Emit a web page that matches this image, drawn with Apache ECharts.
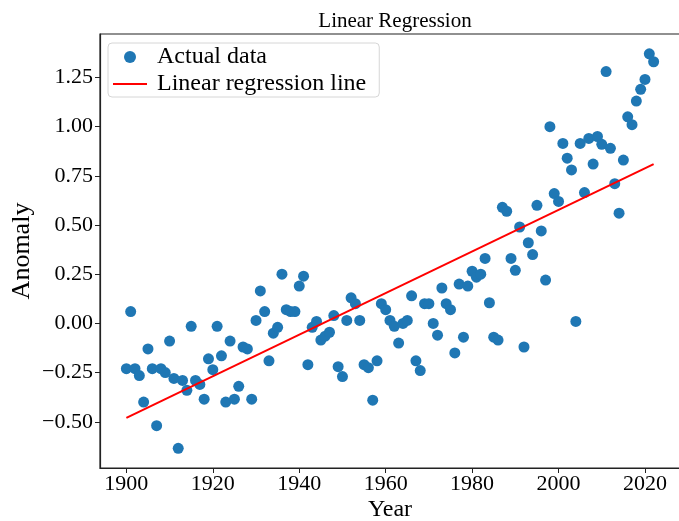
<!DOCTYPE html>
<html>
<head>
<meta charset="utf-8">
<script src="https://cdn.jsdelivr.net/npm/echarts@6/dist/echarts.min.js"></script>
<style>
html,body{margin:0;padding:0;background:#fff;}
#chart{width:679px;height:521px;}
</style>
</head>
<body>
<div id="chart"></div>
<script>
var years = [];
for (var y = 1900; y <= 2022; y++) years.push(y);
var anomaly = [
 -0.23, 0.06, -0.23, -0.265, -0.40, -0.13, -0.23, -0.52, -0.23, -0.25,
 -0.09, -0.28, -0.635, -0.29, -0.34, -0.015, -0.29, -0.31, -0.385, -0.18,
 -0.235, -0.015, -0.165, -0.40, -0.09, -0.385, -0.32, -0.12, -0.13, -0.385,
 0.015, 0.165, 0.06, -0.19, -0.05, -0.02, 0.25, 0.07, 0.06, 0.06,
 0.19, 0.24, -0.21, -0.02, 0.01, -0.085, -0.065, -0.045, 0.04, -0.22,
 -0.27, 0.015, 0.13, 0.10, 0.015, -0.21, -0.225, -0.39, -0.19, 0.10,
 0.07, 0.015, -0.015, -0.10, 0.0, 0.015, 0.14, -0.19, -0.24, 0.10,
 0.10, 0.0, -0.06, 0.18, 0.10, 0.07, -0.15, 0.20, -0.07, 0.19,
 0.265, 0.235, 0.25, 0.33, 0.105, -0.07, -0.085, 0.59, 0.57, 0.33,
 0.27, 0.49, -0.12, 0.41, 0.35, 0.60, 0.47, 0.22, 1.00, 0.66,
 0.62, 0.915, 0.84, 0.78, 0.01, 0.915, 0.665, 0.94, 0.81, 0.95,
 0.91, 1.28, 0.89, 0.71, 0.56, 0.83, 1.05, 1.01, 1.13, 1.19,
 1.24, 1.37, 1.33
];
var lineYears = [1900, 2022];
var lineValues = [-0.48, 0.81];
var xTicks = [1900, 1920, 1940, 1960, 1980, 2000, 2020];
var yTicks = [-0.50, -0.25, 0.00, 0.25, 0.50, 0.75, 1.00, 1.25];

var scatterData = years.map(function (yr, i) { return [yr, anomaly[i]]; });
var lineData = lineYears.map(function (yr, i) { return [yr, lineValues[i]]; });

var FONT = '"Liberation Serif", "Times New Roman", serif';
var chart = echarts.init(document.getElementById('chart'), null, {renderer: 'canvas'});
chart.setOption({
  animation: false,
  backgroundColor: '#ffffff',
  title: {
    text: 'Linear Regression',
    left: 390, top: 6, textAlign: 'center',
    textStyle: {fontFamily: FONT, fontSize: 21, fontWeight: 'normal', color: '#000'}
  },
  grid: {
    left: 100, top: 34, right: -1, bottom: 53,
    containLabel: false, outerBoundsMode: 'none',
    show: true, borderColor: '#222', borderWidth: 1.2, backgroundColor: 'transparent'
  },
  legend: {
    orient: 'vertical', left: 108, top: 43,
    padding: [2, 13, 1, 5], itemGap: 3,
    itemWidth: 34, itemHeight: 12,
    backgroundColor: '#fff', borderColor: '#d6d6d6', borderWidth: 1, borderRadius: 4,
    textStyle: {fontFamily: FONT, fontSize: 24, color: '#000', lineHeight: 24, padding: [0, 0, 0, 5]},
    data: [
      {name: 'Actual data', icon: 'circle', itemStyle: {color: '#1f77b4'}},
      {name: 'Linear regression line', icon: 'path://M0,0h34v2h-34z', itemStyle: {color: '#ff0000'}}
    ]
  },
  xAxis: {
    type: 'value', min: 1893.9, max: 2028.1,
    name: 'Year', nameLocation: 'middle', nameGap: 30, nameMoveOverlap: false,
    nameTextStyle: {fontFamily: FONT, fontSize: 24, color: '#000'},
    splitLine: {show: false},
    axisLine: {show: true, onZero: false, lineStyle: {color: '#222', width: 1.2}},
    axisTick: {show: true, length: 5, lineStyle: {color: '#222'}, customValues: xTicks},
    axisLabel: {fontFamily: FONT, fontSize: 22, color: '#000', margin: 5, customValues: xTicks,
      formatter: function (v) { return String(v); }}
  },
  yAxis: {
    type: 'value', min: -0.735, max: 1.471,
    name: 'Anomaly', nameLocation: 'middle', nameGap: 65, nameRotate: 90, nameMoveOverlap: false,
    nameTextStyle: {fontFamily: FONT, fontSize: 26, color: '#000'},
    splitLine: {show: false},
    axisLine: {show: true, onZero: false, lineStyle: {color: '#222', width: 1.2}},
    axisTick: {show: true, length: 5, lineStyle: {color: '#222'}, customValues: yTicks},
    axisLabel: {fontFamily: FONT, fontSize: 22, color: '#000', margin: 7, customValues: yTicks,
      formatter: function (v) { return v.toFixed(2).replace('-', '\u2212'); }}
  },
  series: [
    {
      name: 'Actual data', type: 'scatter', data: scatterData,
      symbol: 'circle', symbolSize: 11,
      itemStyle: {color: '#1f77b4', opacity: 1}, z: 2
    },
    {
      name: 'Linear regression line', type: 'line', data: lineData,
      symbol: 'none', showSymbol: false,
      lineStyle: {color: '#ff0000', width: 2}, itemStyle: {color: '#ff0000'}, z: 3
    }
  ]
});
</script>
</body>
</html>
